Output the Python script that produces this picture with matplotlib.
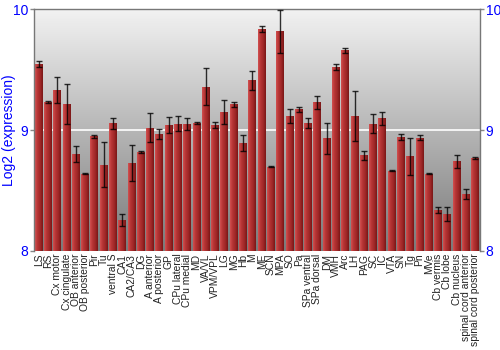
import numpy as np
import matplotlib
matplotlib.use("Agg")
import matplotlib.pyplot as plt
from matplotlib.colors import LinearSegmentedColormap

regions = ["LS", "RS", "Cx motor", "Cx cingulate", "OB anterior", "OB posterior",
           "Pir", "Tu", "ventral S", "CA1", "CA2/CA3", "DG", "A anterior",
           "A posterior", "GP", "CPu lateral", "CPu medial", "MD", "VA/VL",
           "VPM/VPL", "LG", "MG", "Hb", "M", "ME", "SCN", "MPA", "SO", "Pa",
           "SPa ventral", "SPa dorsal", "DM", "VMH", "Arc", "LH", "PAG", "SC",
           "IC", "VTA", "SN", "Tg", "Pn", "MVe", "Cb vermis", "Cb lobe",
           "Cb nucleus", "spinal cord anterior", "spinal cord posterior"]

expression = [9.545, 9.231, 9.328, 9.217, 8.799, 8.639, 8.948, 8.711, 9.055,
              8.256, 8.725, 8.818, 9.017, 8.967, 9.038, 9.052, 9.050, 9.058,
              9.358, 9.041, 9.146, 9.212, 8.890, 9.411, 9.832, 8.697, 9.815,
              9.116, 9.171, 9.058, 9.229, 8.931, 9.521, 9.661, 9.116, 8.793,
              9.052, 9.099, 8.664, 8.940, 8.783, 8.937, 8.639, 8.339, 8.308,
              8.741, 8.471, 8.769]

error = [0.027, 0.010, 0.108, 0.165, 0.065, 0.005, 0.010, 0.186, 0.044,
         0.052, 0.150, 0.010, 0.120, 0.040, 0.066, 0.062, 0.050, 0.010,
         0.155, 0.024, 0.100, 0.020, 0.066, 0.077, 0.025, 0.005, 0.180,
         0.055, 0.022, 0.039, 0.055, 0.130, 0.022, 0.021, 0.205, 0.037,
         0.077, 0.054, 0.005, 0.025, 0.154, 0.022, 0.005, 0.027, 0.058,
         0.054, 0.044, 0.008]

y_ticks = [8, 9, 10]

plt.rcParams['font.family'] = ['Liberation Sans', 'DejaVu Sans']

fig = plt.figure(figsize=(5, 3.5), dpi=100)
ax = fig.add_axes([0.068, 0.283, 0.892, 0.691])

n = len(regions)
x = np.arange(n)
ax.set_xlim(-0.5, n - 0.5)
ax.set_ylim(8, 10)

# gradient background
bg = LinearSegmentedColormap.from_list("bg", ["#7a7a7a", "#f2f2f2"])
grad = np.linspace(0, 1, 256).reshape(-1, 1)
ax.imshow(grad, cmap=bg, aspect="auto", origin="lower",
          extent=(-0.5, n - 0.5, 8, 10), zorder=0)

ax.axhline(9, color="white", lw=1.2, zorder=1)

bars = ax.bar(x, np.array(expression) - 8, bottom=8, width=0.86,
              color="#b03030", edgecolor="none", zorder=2)

# horizontal shading of each bar
barcm = LinearSegmentedColormap.from_list("bar", ["#d25050", "#b53434", "#a02828", "#7a1616"])
hgrad = np.linspace(0, 1, 64).reshape(1, -1)
for b in bars:
    x0 = b.get_x()
    w = b.get_width()
    im = ax.imshow(hgrad, cmap=barcm, aspect="auto",
                   extent=(x0, x0 + w, 8, b.get_y() + b.get_height()), zorder=2.5)
    im.set_clip_path(b)

ax.errorbar(x, expression, yerr=error, fmt="none", ecolor="black",
            elinewidth=1.0, capsize=2.5, capthick=1.0, alpha=0.8, zorder=3)

ax.set_xlim(-0.5, n - 0.5)
ax.set_ylim(8, 10)

ax.set_yticks(y_ticks)
ax.set_yticklabels([str(t) for t in y_ticks])
ax.tick_params(axis="y", colors="#888888", labelcolor="blue", labelsize=10,
               left=True, right=True, labelleft=True, labelright=True,
               length=3, width=1, pad=1)
ax.set_xticks(x)
ax.set_xticklabels(regions, rotation=90, fontsize=7.4, color="#222222")
ax.tick_params(axis="x", length=0, pad=2)

ax.set_ylabel("Log2 (expression)", color="blue", fontsize=10)
ax.yaxis.set_label_coords(-0.040, 0.5)

for side in ["left", "right", "top"]:
    ax.spines[side].set_color("#777777")
    ax.spines[side].set_linewidth(1)
ax.spines["bottom"].set_visible(False)

fig.savefig("out.png", dpi=100)
